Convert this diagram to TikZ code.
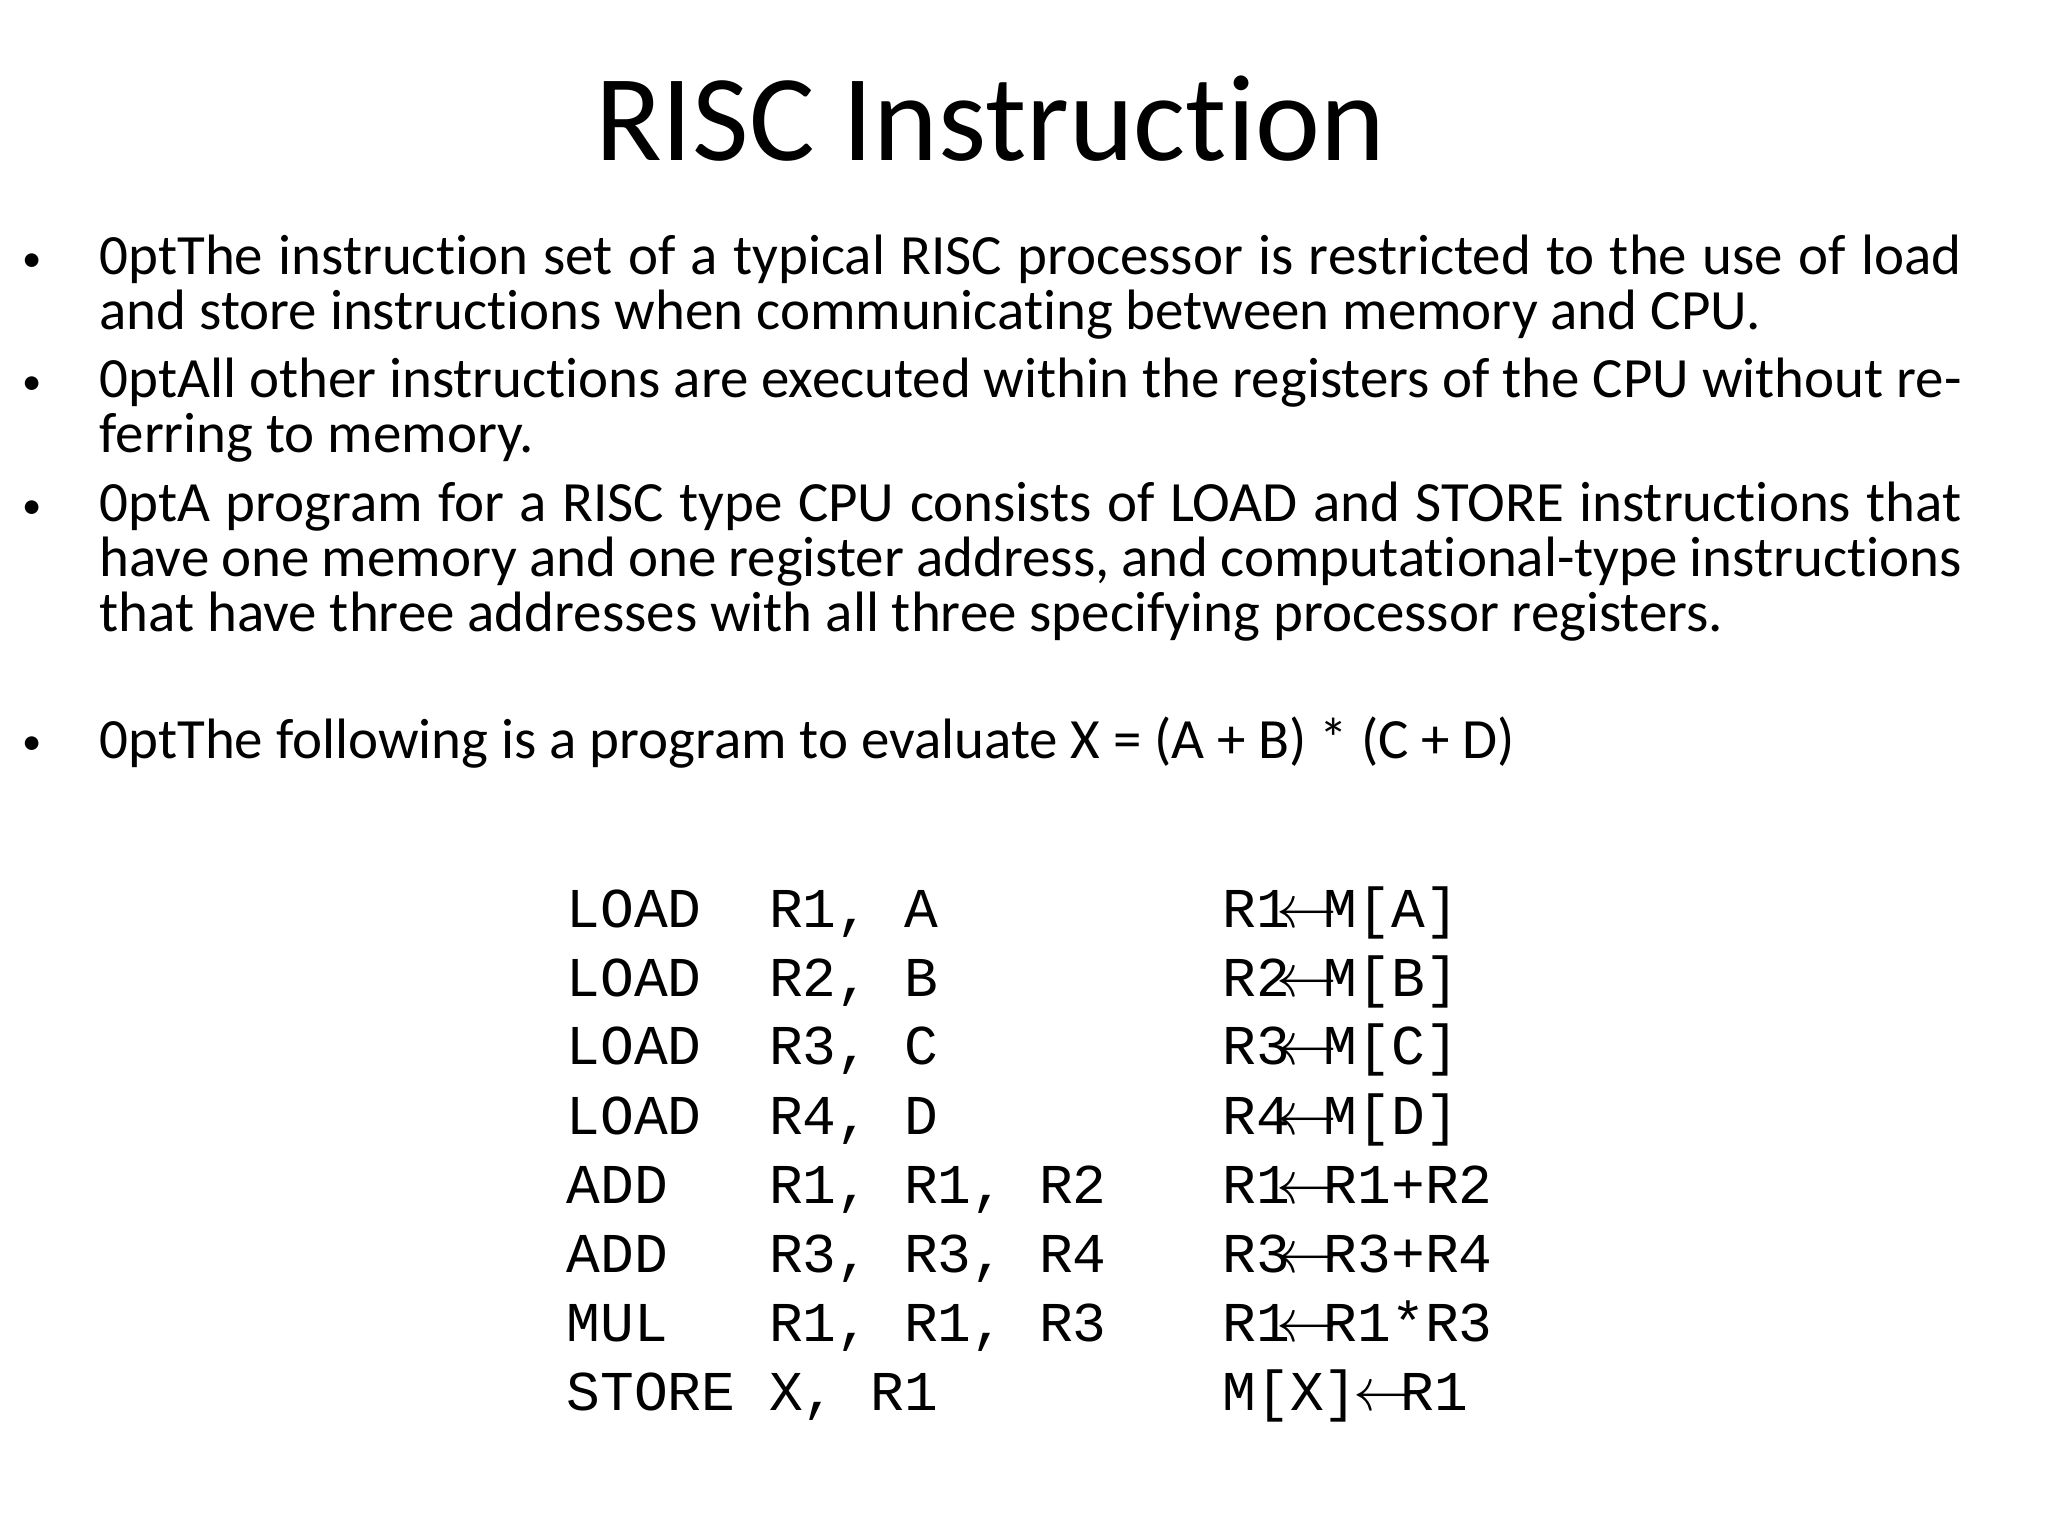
\documentclass[tikz,border=0pt]{standalone}
\usepackage{fontspec}
\setmainfont{Carlito}[Ligatures=NoCommon]
\newfontfamily\codefont{Liberation Mono}
\usetikzlibrary{positioning}
\newcommand{\getsarrow}{\makebox[0.6em]{$\leftarrow$}}
\tikzset{
  point/.style={anchor=north west, inner sep=0pt, text width=18.62cm, align=justify,
    font=\fontsize{16.2}{15.7}\selectfont\hyphenpenalty=10000\exhyphenpenalty=10000},
  dot/.style={anchor=base, inner sep=0pt, font=\fontsize{11}{12}\selectfont},
  code/.style={anchor=base west, inner sep=0pt, font=\codefont\fontsize{16}{19}\selectfont}
}
\begin{document}
\begin{tikzpicture}
\useasboundingbox (0,0) rectangle (20.48,-15.36);

\node[anchor=base, inner sep=0pt, font=\fontsize{35}{40}\selectfont] (title) at (9.9,-1.61) {RISC Instruction};

\node[dot] (dot1) at (0.32,-2.72) {\textbullet};
\node[dot] (dot2) at (0.32,-3.95) {\textbullet};
\node[dot] (dot3) at (0.32,-5.19) {\textbullet};
\node[dot] (dot4) at (0.32,-7.54) {\textbullet};

\node[point] (item1) at (0.99,-2.34) {The instruction set of a typical RISC processor is restricted to the use of load and store instructions when communicating between memory and CPU.};
\node[point] (item2) at (0.99,-3.57) {All other instructions are executed within the registers of the CPU without referring to memory.};
\node[point] (item3) at (0.99,-4.81) {A program for a RISC type CPU consists of LOAD and STORE instructions that have one memory and one register address, and computational-type instructions that have three addresses with all three specifying processor registers.};
\node[point] (item4) at (0.99,-7.16) {The following is a program to evaluate X = (A + B) * (C + D)};

% program
\node[code] (ins1) at (5.66,-9.27) {LOAD\ \ R1, A};
\node[code] (ins2) at (5.66,-9.96) {LOAD\ \ R2, B};
\node[code] (ins3) at (5.66,-10.65) {LOAD\ \ R3, C};
\node[code] (ins4) at (5.66,-11.34) {LOAD\ \ R4, D};
\node[code] (ins5) at (5.66,-12.03) {ADD\ \ \ R1, R1, R2};
\node[code] (ins6) at (5.66,-12.72) {ADD\ \ \ R3, R3, R4};
\node[code] (ins7) at (5.66,-13.41) {MUL\ \ \ R1, R1, R3};
\node[code] (ins8) at (5.66,-14.10) {STORE X, R1};

% meaning
\node[code] (act1) at (12.22,-9.27) {R1\getsarrow M[A]};
\node[code] (act2) at (12.22,-9.96) {R2\getsarrow M[B]};
\node[code] (act3) at (12.22,-10.65) {R3\getsarrow M[C]};
\node[code] (act4) at (12.22,-11.34) {R4\getsarrow M[D]};
\node[code] (act5) at (12.22,-12.03) {R1\getsarrow R1+R2};
\node[code] (act6) at (12.22,-12.72) {R3\getsarrow R3+R4};
\node[code] (act7) at (12.22,-13.41) {R1\getsarrow R1*R3};
\node[code] (act8) at (12.22,-14.10) {M[X]\,\getsarrow R1};
\end{tikzpicture}
\end{document}
